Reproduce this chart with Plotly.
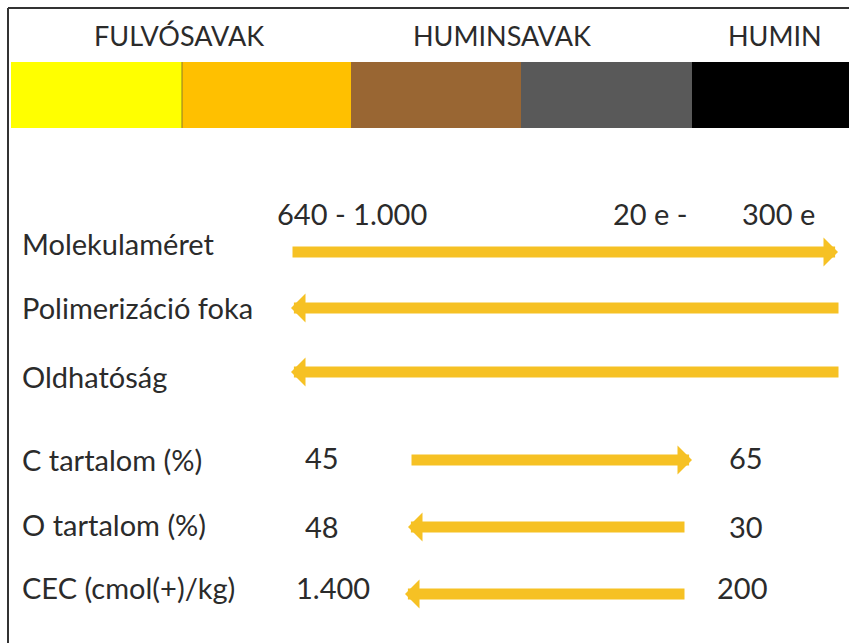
import plotly.graph_objects as go

# ---------------- data ----------------
header_labels = ["FULVÓSAVAK", "HUMINSAVAK", "HUMIN"]
segment_colors = ["#FFFF00", "#FFC000", "#996633", "#595959", "#000000"]

row_labels = ["Molekulaméret", "Polimerizáció foka", "Oldhatóság",
              "C tartalom (%)", "O tartalom (%)", "CEC (cmol(+)/kg)"]
row_directions = [1, -1, -1, 1, -1, -1]          # +1 arrow to the right, -1 to the left
left_values = ["", "", "", "45", "48", "1.400"]
right_values = ["", "", "", "65", "30", "200"]
size_labels = ["640 - 1.000", "20 e -", "300 e"]

# ---------------- layout (pixel space) ----------------
W, H = 849, 643
FONT = "Lato, Carlito, Calibri, sans-serif"
TXT = "#2b2b2b"
ARROW = "#F6C124"
LAB_SIZE = 29
HEAD_SIZE = 27

header_x = [179, 502, 775]
header_y = 35
seg_edges = [11, 182, 351, 521, 692, 849]
bar_y0, bar_y1 = 62, 128

row_y_label = [243, 307, 376, 459, 524, 587]
row_y_arrow = [252, 308, 372, 460, 527, 594]
arrow_x = [(291, 838), (291, 840), (291, 840), (410, 692), (408, 686), (405, 686)]
left_val_x = [None, None, None, 322, 322, 333]
right_val_x = [None, None, None, 746, 746, 742]
val_y = [None, None, None, 457, 526, 587]
size_label_x = [275, 611, 740]
size_label_y = 213

fig = go.Figure()

# color bar as horizontal bars
bases = seg_edges[:-1]
widths = [b - a for a, b in zip(seg_edges[:-1], seg_edges[1:])]
fig.add_trace(go.Bar(
    orientation="h", base=bases, x=widths, y=[(bar_y0 + bar_y1) / 2] * len(widths),
    width=bar_y1 - bar_y0, marker=dict(color=segment_colors, line=dict(width=0)),
    hoverinfo="skip", showlegend=False))

annotations = []
for lab, x in zip(header_labels, header_x):
    annotations.append(dict(x=x, y=header_y, text=lab, showarrow=False, xanchor="center",
                            yanchor="middle", font=dict(family=FONT, size=HEAD_SIZE, color=TXT)))

for i, lab in enumerate(row_labels):
    annotations.append(dict(x=20, y=row_y_label[i], text=lab, showarrow=False, xanchor="left",
                            yanchor="middle", font=dict(family=FONT, size=LAB_SIZE, color=TXT)))
    x0, x1 = arrow_x[i]
    if row_directions[i] > 0:
        tail, head = x0, x1
    else:
        tail, head = x1, x0
    annotations.append(dict(x=head, y=row_y_arrow[i], ax=tail, ay=row_y_arrow[i],
                            xref="x", yref="y", axref="x", ayref="y", text="",
                            showarrow=True, arrowhead=1, arrowsize=0.44, arrowwidth=11,
                            arrowcolor=ARROW))
    if left_values[i]:
        annotations.append(dict(x=left_val_x[i], y=val_y[i], text=left_values[i],
                                showarrow=False, xanchor="center", yanchor="middle",
                                font=dict(family=FONT, size=LAB_SIZE, color=TXT)))
    if right_values[i]:
        annotations.append(dict(x=right_val_x[i], y=val_y[i], text=right_values[i],
                                showarrow=False, xanchor="center", yanchor="middle",
                                font=dict(family=FONT, size=LAB_SIZE, color=TXT)))

for lab, x in zip(size_labels, size_label_x):
    annotations.append(dict(x=x, y=size_label_y, text=lab, showarrow=False, xanchor="left",
                            yanchor="middle", font=dict(family=FONT, size=LAB_SIZE, color=TXT)))

shapes = [
    dict(type="line", x0=8, x1=8, y0=8, y1=H, line=dict(color="#333333", width=2)),
    dict(type="line", x0=8, x1=W, y0=8, y1=8, line=dict(color="#333333", width=2)),
    dict(type="line", x0=182, x1=182, y0=bar_y0, y1=bar_y1, line=dict(color="#8a7a2a", width=1)),
]

fig.update_layout(
    width=W, height=H, margin=dict(l=0, r=0, t=0, b=0),
    paper_bgcolor="white", plot_bgcolor="white",
    xaxis=dict(range=[0, W], visible=False, fixedrange=True),
    yaxis=dict(range=[H, 0], visible=False, fixedrange=True),
    annotations=annotations, shapes=shapes, bargap=0, showlegend=False,
)

fig.write_html("out.html", config={"displayModeBar": False},
               post_script="document.body.style.margin='0';document.body.style.overflow='hidden';")
